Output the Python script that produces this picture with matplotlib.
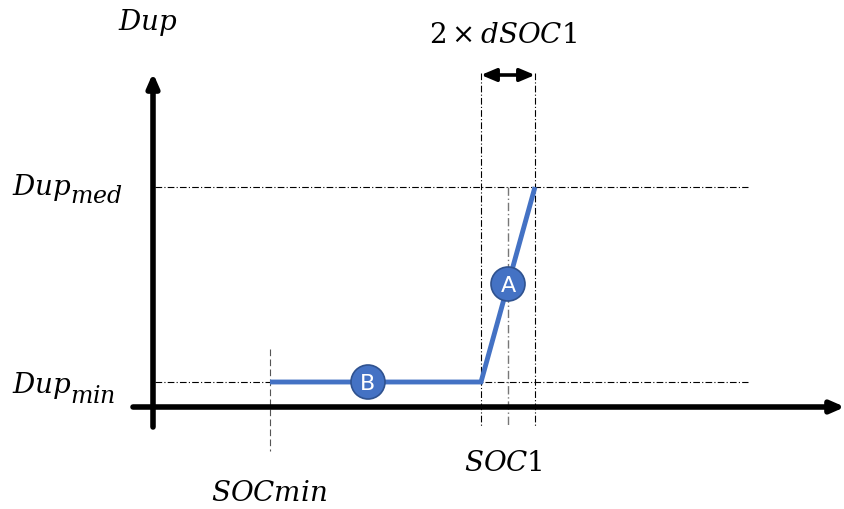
import matplotlib.pyplot as plt
from matplotlib.patches import Circle, FancyArrowPatch

plt.rcParams['mathtext.fontset'] = 'dejavuserif'

# positions in picture units (x to the right, y downwards)
soc_min = 270
soc1_lo, soc1, soc1_hi = 481, 508, 535
dup_min, dup_med = 383, 188
curve_x = [soc_min, soc1_lo, soc1_hi]
curve_y = [dup_min, dup_min, dup_med]
markers = [("B", 368, dup_min), ("A", soc1, 285)]

blue = "#4472C4"

fig = plt.figure(figsize=(8.45, 5.1), dpi=100)
ax = fig.add_axes([0, 0, 1, 1])
ax.set_xlim(0, 845)
ax.set_ylim(510, 0)
ax.axis("off")

# axes arrows
ax.annotate("", xy=(153, 74), xytext=(153, 428),
            arrowprops=dict(arrowstyle="-|>,head_length=0.8,head_width=0.35", lw=4, color="black",
                            shrinkA=0, shrinkB=0))
ax.annotate("", xy=(845, 408), xytext=(133, 408),
            arrowprops=dict(arrowstyle="-|>,head_length=0.8,head_width=0.35", lw=4, color="black",
                            shrinkA=0, shrinkB=0))

# guide lines
for y in [dup_min, dup_med]:
    ax.plot([155, 748], [y, y], color="black", lw=0.8, dashes=(6, 2, 1, 2))
ax.plot([soc_min, soc_min], [350, 452], color="#555555", lw=0.8, dashes=(6, 3))
ax.plot([soc1_lo, soc1_lo], [74, 428], color="black", lw=0.8, dashes=(6, 2, 1, 2))
ax.plot([soc1_hi, soc1_hi], [74, 428], color="black", lw=0.8, dashes=(6, 2, 1, 2))
ax.plot([soc1, soc1], [dup_med, 428], color="#777777", lw=1.0, dashes=(6, 2, 1, 2))

# double arrow for 2 x dSOC1
ax.add_patch(FancyArrowPatch((soc1_lo, 76), (soc1_hi, 76),
                             arrowstyle="<|-|>,head_length=9,head_width=3.8", lw=2.6,
                             color="black", shrinkA=0, shrinkB=0, mutation_scale=1))

# curve
ax.plot(curve_x, curve_y, color=blue, lw=3.5, solid_capstyle="butt", solid_joinstyle="miter")

for lbl, x, y in markers:
    ax.add_patch(Circle((x, y), 17, facecolor=blue, edgecolor="#2F528F", lw=1.2, zorder=5))
    ax.text(x, y + 1, lbl, color="white", fontsize=16, ha="center", va="center",
            family="DejaVu Sans", zorder=6)

# labels
fs = 20
ax.text(148, 22, r"$Dup$", fontsize=fs, ha="center", va="center")
ax.text(503, 35, r"$2\times dSOC1$", fontsize=fs, ha="center", va="center")
ax.text(12, 195, r"$Dup$", fontsize=fs, ha="left", va="baseline")
ax.text(70, 203, r"$med$", fontsize=17, ha="left", va="baseline")
ax.text(12, 393, r"$Dup$", fontsize=fs, ha="left", va="baseline")
ax.text(70, 403, r"$min$", fontsize=17, ha="left", va="baseline")
ax.text(503, 463, r"$SOC1$", fontsize=fs, ha="center", va="center")
ax.text(269, 493, r"$SOCmin$", fontsize=fs, ha="center", va="center")

fig.savefig("out.png", dpi=100)
